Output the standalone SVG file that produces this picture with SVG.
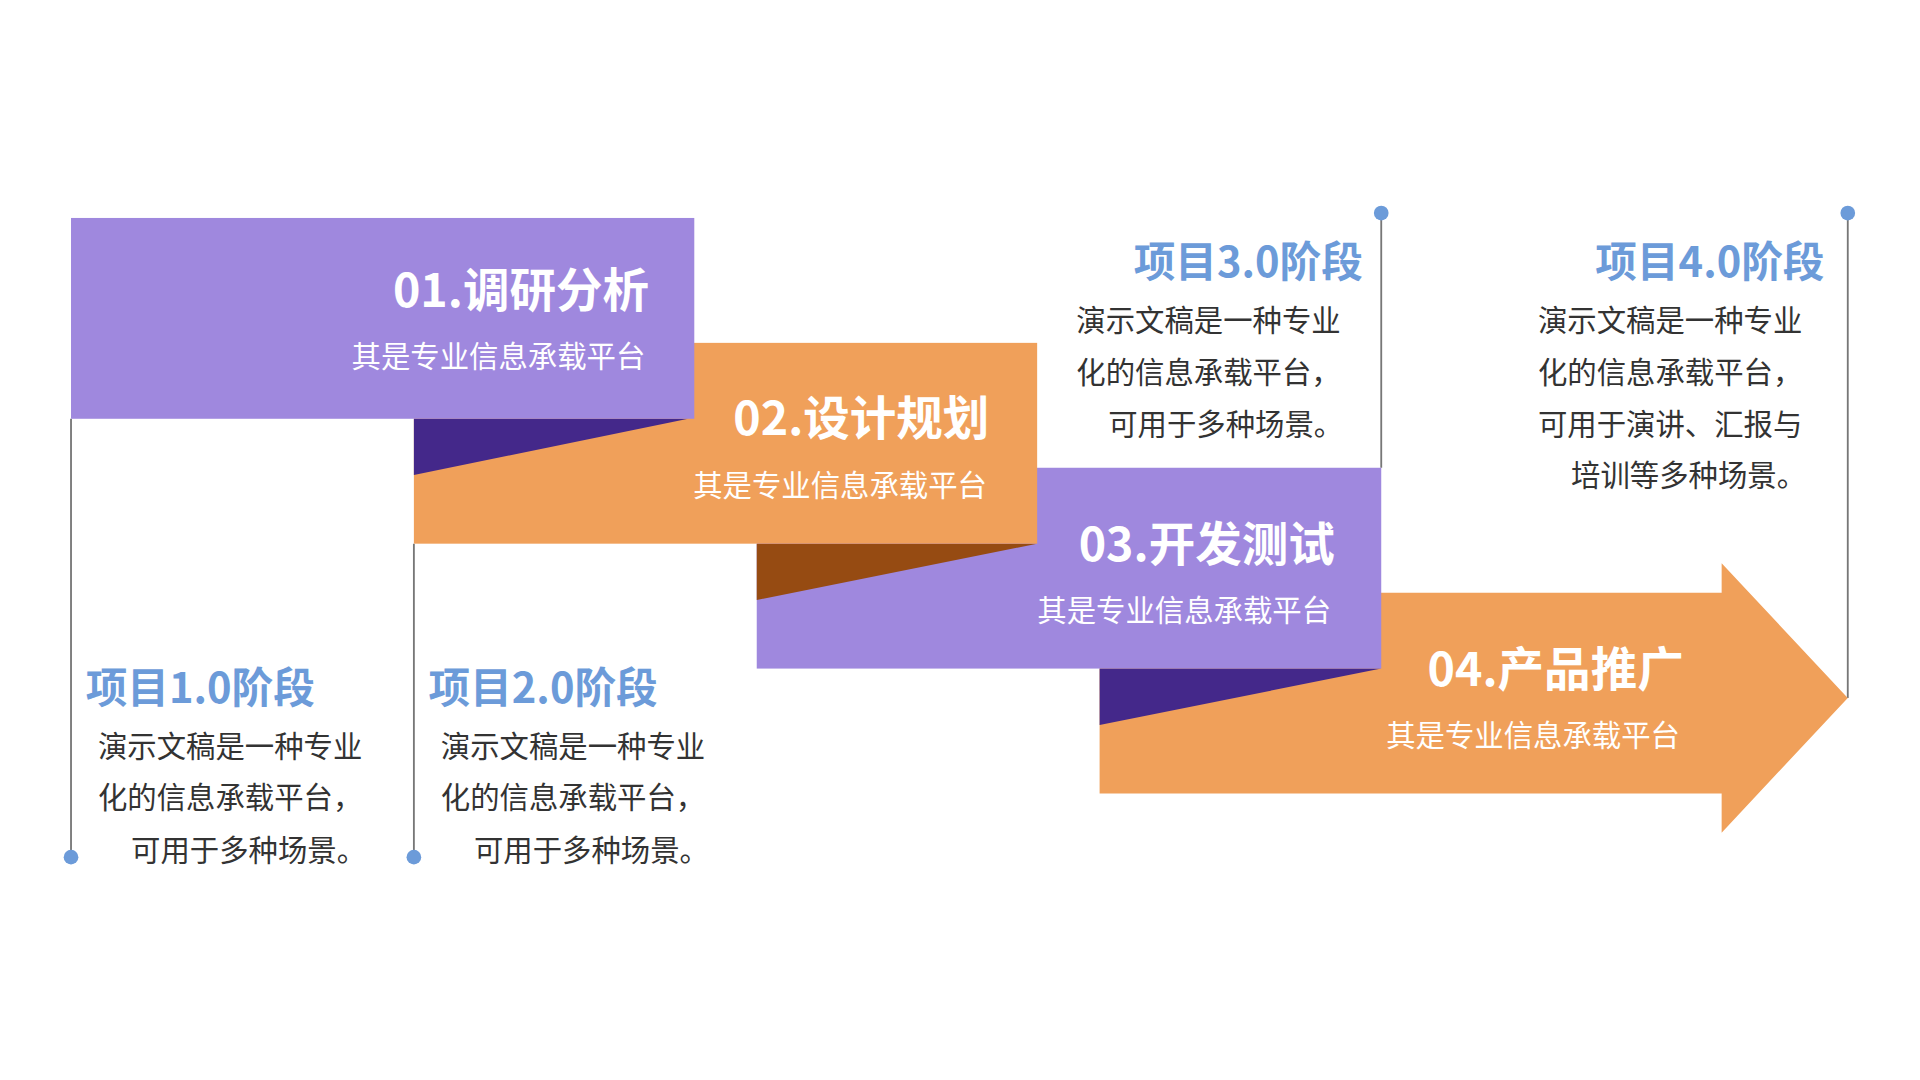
<svg xmlns="http://www.w3.org/2000/svg" width="1920" height="1080" viewBox="0 0 1920 1080">
<style>
.t{font-family:"Noto Sans CJK SC","Noto Sans",sans-serif;font-weight:bold;font-size:38px;fill:#fff;text-anchor:end}
.s{font-family:"Noto Sans CJK SC",sans-serif;font-size:24px;fill:#fff;text-anchor:end}
.h{font-family:"Noto Sans CJK SC","Noto Sans",sans-serif;font-weight:bold;font-size:34px;fill:#6C9BD9}
.b{font-family:"Noto Sans CJK SC",sans-serif;font-size:24px;fill:#333}
.ln{stroke:#777;stroke-width:1.5;fill:none}
.dot{fill:#6C9BD9}
</style>
<rect width="1920" height="1080" fill="#fff"/>
<g transform="scale(1.2245)">
<g id="connectors">
<line class="ln" x1="58" y1="342" x2="58" y2="700"/><circle class="dot" cx="58" cy="700" r="6"/>
<line class="ln" x1="338" y1="444" x2="338" y2="700"/><circle class="dot" cx="338" cy="700" r="6"/>
<line class="ln" x1="1128" y1="174" x2="1128" y2="382"/><circle class="dot" cx="1128" cy="174" r="6"/>
<line class="ln" x1="1509" y1="174" x2="1509" y2="570"/><circle class="dot" cx="1509" cy="174" r="6"/>
</g>
<g id="step4">
<polygon points="898,484 1406,484 1406,460 1509,570 1406,680 1406,648 898,648" fill="#F0A05A"/>
<polygon points="898,546 1128,546 898,592" fill="#44288A"/>
<text class="t" x="1375" y="560">04.产品推广</text>
<text class="s" x="1372" y="609">其是专业信息承载平台</text>
</g>
<g id="step3">
<rect x="618" y="382" width="510" height="164" fill="#9F88DE"/>
<polygon points="618,444 847,444 618,490" fill="#964B12"/>
<text class="t" x="1090" y="458">03.开发测试</text>
<text class="s" x="1087" y="507">其是专业信息承载平台</text>
</g>
<g id="step2">
<rect x="338" y="280" width="509" height="164" fill="#F0A05A"/>
<polygon points="338,342 562,342 338,388" fill="#44288A"/>
<text class="t" x="808" y="355">02.设计规划</text>
<text class="s" x="806" y="405">其是专业信息承载平台</text>
</g>
<g id="step1">
<rect x="58" y="178" width="509" height="164" fill="#9F88DE"/>
<text class="t" x="530" y="251">01.调研分析</text>
<text class="s" x="527" y="300">其是专业信息承载平台</text>
</g>
<g id="p1">
<text class="h" x="70" y="574">项目1.0阶段</text>
<text class="b" x="80" y="618">演示文稿是一种专业</text>
<text class="b" x="80" y="660">化的信息承载平台，</text>
<text class="b" x="107" y="703">可用于多种场景。</text>
</g>
<g id="p2">
<text class="h" x="350" y="574">项目2.0阶段</text>
<text class="b" x="360" y="618">演示文稿是一种专业</text>
<text class="b" x="360" y="660">化的信息承载平台，</text>
<text class="b" x="387" y="703">可用于多种场景。</text>
</g>
<g id="p3">
<text class="h" x="1113" y="226" text-anchor="end">项目3.0阶段</text>
<text class="b" x="879" y="270">演示文稿是一种专业</text>
<text class="b" x="879" y="313">化的信息承载平台，</text>
<text class="b" x="905" y="355">可用于多种场景。</text>
</g>
<g id="p4">
<text class="h" x="1490" y="226" text-anchor="end">项目4.0阶段</text>
<text class="b" x="1256" y="270">演示文稿是一种专业</text>
<text class="b" x="1256" y="313">化的信息承载平台，</text>
<text class="b" x="1256" y="355">可用于演讲、汇报与</text>
<text class="b" x="1283" y="397">培训等多种场景。</text>
</g>
</g>
</svg>
